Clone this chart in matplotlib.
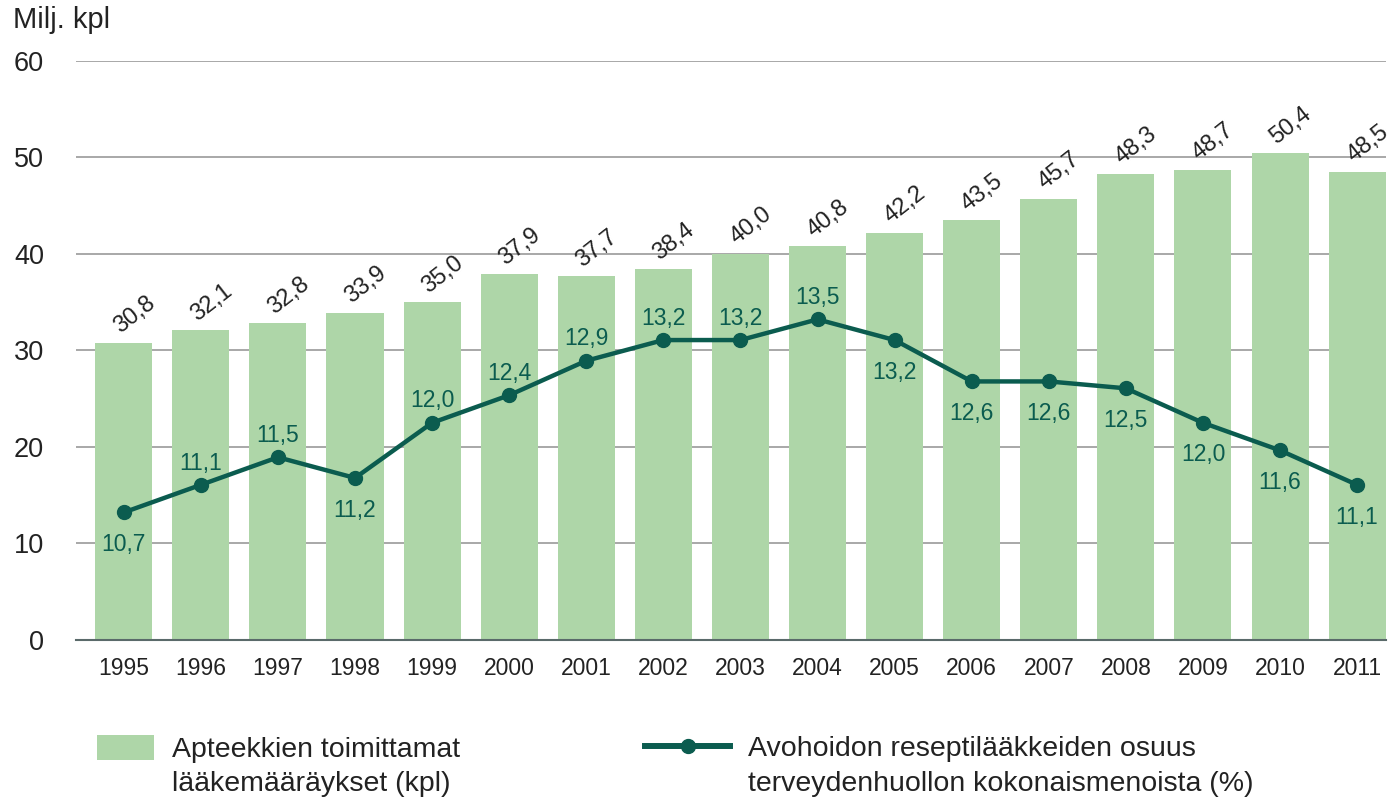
import numpy as np
import matplotlib.pyplot as plt

# Datos
years = ["1995", "1996", "1997", "1998", "1999", "2000", "2001", "2002", "2003",
         "2004", "2005", "2006", "2007", "2008", "2009", "2010", "2011"]
prescriptions = [30.8, 32.1, 32.8, 33.9, 35.0, 37.9, 37.7, 38.4, 40.0,
                 40.8, 42.2, 43.5, 45.7, 48.3, 48.7, 50.4, 48.5]
share = [10.7, 11.1, 11.5, 11.2, 12.0, 12.4, 12.9, 13.2, 13.2,
         13.5, 13.2, 12.6, 12.6, 12.5, 12.0, 11.6, 11.1]
# label above (1) or below (-1) the point
share_pos = [-1, 1, 1, -1, 1, 1, 1, 1, 1, 1, -1, -1, -1, -1, -1, -1, -1]

bar_label = ["Apteekkien toimittamat", "lääkemääräykset (kpl)"]
line_label = ["Avohoidon reseptilääkkeiden osuus", "terveydenhuollon kokonaismenoista (%)"]

bar_color = "#aed6a8"
line_color = "#0b5c4f"
text_color = "#222222"

plt.rcParams["font.family"] = ["Liberation Sans", "DejaVu Sans"]

fig = plt.figure(figsize=(13.94, 8), dpi=100)
ax = fig.add_axes([0.0545, 0.2, 0.9395, 0.724])
x = np.arange(len(years))

bars = ax.bar(x, prescriptions, width=0.74, color=bar_color, zorder=2)
ax.set_ylim(0, 60)
ax.set_xlim(-0.62, 16.37)
ax.set_yticks(range(0, 61, 10))
ax.yaxis.grid(True, color="#9a9a9a", linewidth=1.2, zorder=0)
ax.set_axisbelow(True)
for s in ["top", "right", "left"]:
    ax.spines[s].set_visible(False)
ax.spines["bottom"].set_color("#5a6a6a")
ax.spines["bottom"].set_linewidth(1.5)
ax.tick_params(axis="both", length=0)
ax.tick_params(axis="y", labelsize=19.5, labelcolor=text_color, pad=23)
ax.set_xticks(x)
ax.set_xticklabels(years, fontsize=16.5, color=text_color)
ax.tick_params(axis="x", pad=12)

for xi, v in zip(x, prescriptions):
    ax.text(xi - 0.01, v + 0.5, f"{v:.1f}".replace(".", ","), rotation=38,
            ha="left", va="bottom", fontsize=17, color=text_color,
            rotation_mode="anchor")

fig.text(0.009, 0.993, "Milj. kpl", fontsize=21, color=text_color, va="top")

# toissijainen akseli viivalle
ax2 = ax.twinx()
ax2.set_ylim(8.85, 17.25)
ax2.axis("off")
line, = ax2.plot(x, share, color=line_color, linewidth=3.2, marker="o",
                 markersize=10, zorder=3)
for xi, v, p in zip(x, share, share_pos):
    off = 0.15 if p > 0 else -0.3
    ax2.text(xi, v + off, f"{v:.1f}".replace(".", ","), ha="center",
             va="bottom" if p > 0 else "top", fontsize=16.5, color=line_color)

# selitteet: ensimmäinen rivi legendissä, toinen rivi tekstinä alle
leg1 = fig.legend([bars], [bar_label[0]], loc="center left",
                  bbox_to_anchor=(0.0696, 1 - 749 / 800), frameon=False,
                  fontsize=20.5, handlelength=2.0, handleheight=1.0,
                  handletextpad=0.62, borderpad=0, borderaxespad=0,
                  labelcolor=text_color)
leg2 = fig.legend([line], [line_label[0]], loc="center left",
                  bbox_to_anchor=(0.4627, 1 - 749 / 800), frameon=False,
                  fontsize=20.5, handlelength=3.0, handletextpad=0.62,
                  borderpad=0, borderaxespad=0, labelcolor=text_color)
for h in leg2.legend_handles:
    h.set_linewidth(4.3)
    h.set_markersize(10)

fig.canvas.draw()
for leg, lab in [(leg1, bar_label), (leg2, line_label)]:
    bb = leg.get_texts()[0].get_window_extent()
    fig.text(bb.x0 / fig.bbox.width, 1 - 784 / 800, lab[1], fontsize=20.5,
             color=text_color, va="center")

fig.savefig("out.png", dpi=100)
